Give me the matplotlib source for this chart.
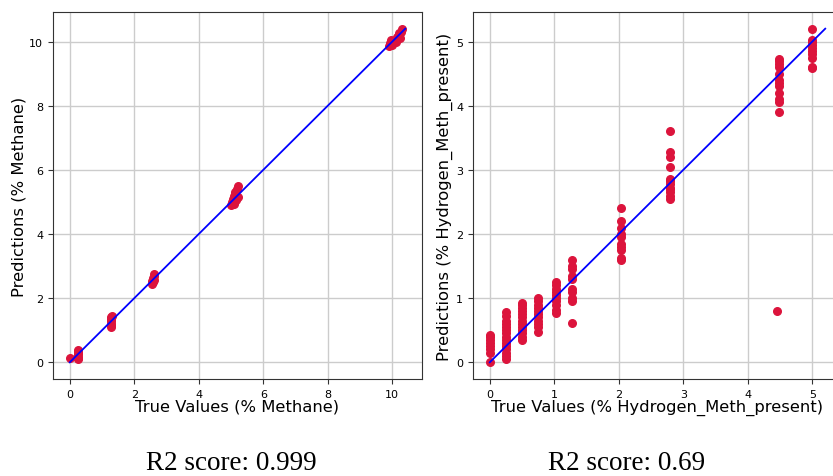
import matplotlib
matplotlib.use("Agg")
from matplotlib import pyplot as plt

# left panel: methane
ch4_true = [0.0,
            0.26, 0.26, 0.26, 0.26, 0.27, 0.27, 0.27,
            1.27, 1.27, 1.28, 1.28, 1.29, 1.29, 1.3,
            2.55, 2.56, 2.58, 2.58, 2.6, 2.6, 2.62,
            5.0, 5.02, 5.05, 5.08, 5.1, 5.12, 5.15, 5.18, 5.2, 5.2,
            9.9, 9.92, 9.95, 10.0, 10.1, 10.15, 10.2, 10.25, 10.28, 10.3]
ch4_pred = [0.15,
            0.1, 0.18, 0.25, 0.32, 0.38, 0.14, 0.28,
            1.1, 1.2, 1.28, 1.35, 1.42, 1.15, 1.45,
            2.45, 2.55, 2.62, 2.5, 2.7, 2.58, 2.75,
            4.9, 5.0, 5.1, 4.95, 5.2, 5.3, 5.05, 5.4, 5.5, 5.15,
            9.85, 9.95, 10.05, 9.9, 10.0, 10.15, 10.25, 10.1, 10.3, 10.4]

# right panel: hydrogen
h2_true = [0.0] * 8 + [0.25] * 15 + [0.5] * 13 + [0.75] * 11 + [1.02] * 10 \
    + [1.28] * 10 + [2.03] * 10 + [2.8] * 12 + [4.48] * 12 + [4.45] + [5.0] * 10
h2_pred = [0.0, 0.15, 0.2, 0.25, 0.3, 0.35, 0.4, 0.42,
           0.05, 0.1, 0.15, 0.2, 0.25, 0.3, 0.35, 0.4, 0.45, 0.5, 0.55, 0.6, 0.65, 0.72, 0.78,
           0.35, 0.4, 0.45, 0.5, 0.55, 0.6, 0.65, 0.7, 0.75, 0.8, 0.85, 0.9, 0.92,
           0.48, 0.55, 0.6, 0.65, 0.7, 0.75, 0.8, 0.85, 0.9, 0.95, 1.0,
           0.77, 0.82, 0.9, 0.95, 1.0, 1.05, 1.1, 1.15, 1.2, 1.25,
           0.62, 0.95, 1.0, 1.1, 1.15, 1.3, 1.35, 1.45, 1.5, 1.6,
           1.6, 1.62, 1.75, 1.8, 1.85, 1.95, 2.0, 2.1, 2.2, 2.4,
           2.55, 2.6, 2.65, 2.7, 2.72, 2.78, 2.82, 2.85, 3.05, 3.2, 3.28, 3.6,
           3.9, 4.05, 4.1, 4.2, 4.3, 4.35, 4.4, 4.5, 4.6, 4.65, 4.7, 4.72,
           0.8,
           4.58, 4.6, 4.75, 4.8, 4.85, 4.9, 4.95, 5.0, 5.02, 5.2]

panels = [
    (ch4_true, ch4_pred, "Methane", "0.999", 53),
    (h2_true, h2_pred, "Hydrogen_Meth_present", "0.69", 473),
]

W, H = 833, 477
fig = plt.figure(figsize=(W / 100, H / 100), dpi=100)
for (yt, yp, name, r2, left_px) in panels:
    ax = fig.add_axes([left_px / W, 97 / H, 369 / W, 367 / H])
    ax.scatter(yt, yp, s=30, color="#dc143c", zorder=3)
    lo = min(min(yt), min(yp))
    hi = max(max(yt), max(yp))
    ax.plot([lo, hi], [lo, hi], color="blue", lw=1.3, zorder=4)
    ax.grid(True, color="#cccccc", lw=1)
    ax.set_axisbelow(True)
    ax.tick_params(labelsize=8, color="#333333")
    ax.set_xlabel("True Values (% " + name + ")", fontsize=11.8, labelpad=0)
    ax.set_ylabel("Predictions (% " + name + ")", fontsize=11.8, labelpad=2)
    for sp in ax.spines.values():
        sp.set_color("#333333")

fig.text(231 / W, 1 - 464 / H, "R2 score: " + panels[0][3], ha="center", va="center",
         fontsize=19.5, family="Liberation Serif")
fig.text(627 / W, 1 - 464 / H, "R2 score: " + panels[1][3], ha="center", va="center",
         fontsize=19.5, family="Liberation Serif")

fig.savefig("out.png", dpi=100)
